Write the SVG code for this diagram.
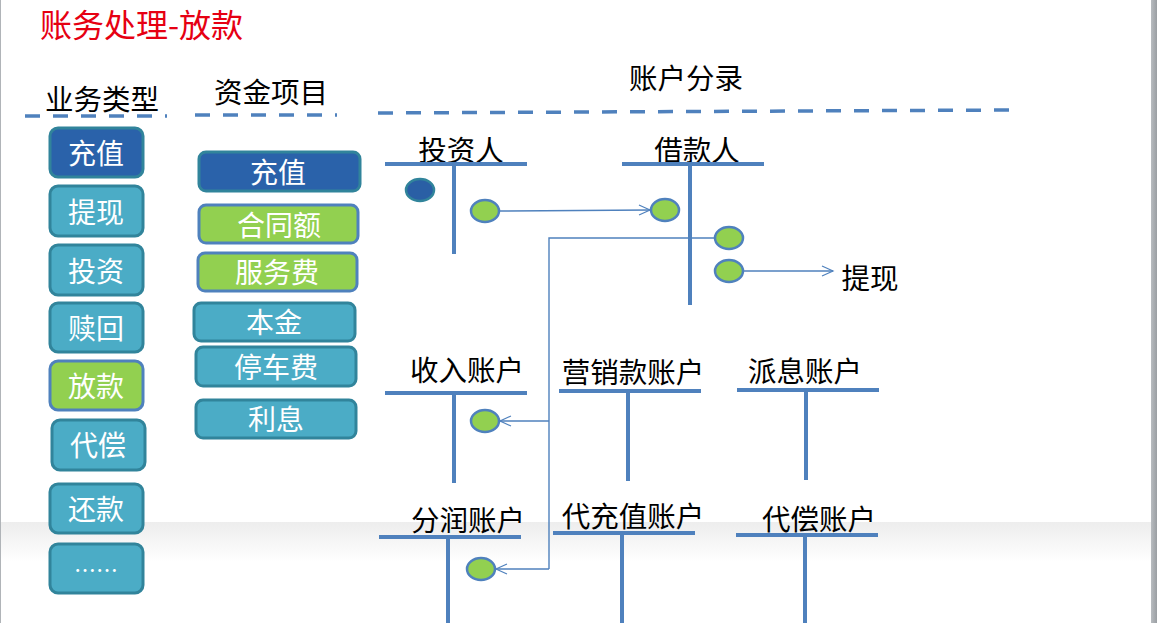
<svg xmlns="http://www.w3.org/2000/svg" width="1157" height="623" viewBox="0 0 1157 623">
<defs>
<linearGradient id="band" x1="0" y1="0" x2="0" y2="1">
<stop offset="0" stop-color="#ededed"/>
<stop offset="1" stop-color="#ffffff"/>
</linearGradient>
<linearGradient id="edge" x1="0" y1="0" x2="1" y2="0">
<stop offset="0" stop-color="#b8bcc0"/>
<stop offset="1" stop-color="#9a9ea2"/>
</linearGradient>
<marker id="arr" markerWidth="14" markerHeight="12" refX="12" refY="6" orient="auto" markerUnits="userSpaceOnUse">
<polyline points="1,1 12,6 1,11" fill="none" stroke="#4F81BD" stroke-width="1.2"/>
</marker>
<style>
text{font-family:"Noto Sans CJK SC","Liberation Sans",sans-serif;}
.hdr{font-size:28.5px;fill:#000;text-anchor:middle;dominant-baseline:central;}
.lbl{font-size:28.5px;fill:#000;text-anchor:middle;dominant-baseline:central;}
.bt{font-size:28px;fill:#fff;text-anchor:middle;dominant-baseline:central;}
.teal{fill:#4BACC6;stroke:#31849B;stroke-width:3;}
.dark{fill:#2A62AA;stroke:#31849B;stroke-width:3;}
.green{fill:#92D050;stroke:#4F81BD;stroke-width:3;}
.dash{stroke:#4F81BD;stroke-width:3.5;stroke-dasharray:15 13;fill:none;}
.t{stroke:#4F81BD;stroke-width:4;fill:none;}
.conn{stroke:#4F81BD;stroke-width:1.4;fill:none;}
.gdot{fill:#92D050;stroke:#4F81BD;stroke-width:2.5;}
.bdot{fill:#2A5FA5;stroke:#31849B;stroke-width:2.5;}
</style>
</defs>
<rect x="0" y="0" width="1157" height="623" fill="#ffffff"/>
<rect x="0" y="522" width="1151" height="40" fill="url(#band)"/>
<rect x="1151" y="0" width="6" height="623" fill="url(#edge)"/>
<rect x="0" y="0" width="1" height="623" fill="#b0b4b8"/>

<g id="title"><text x="40" y="23" style="font-size:32px;fill:#E60012;dominant-baseline:central;">账务处理-放款</text></g>

<g id="headers">
<text class="hdr" x="102" y="97">业务类型</text>
<text class="hdr" x="271" y="90">资金项目</text>
<text class="hdr" x="686" y="76">账户分录</text>
<line class="dash" x1="25" y1="116" x2="167" y2="116"/>
<line class="dash" x1="195" y1="115" x2="337" y2="115"/>
<line class="dash" x1="378" y1="113" x2="1010" y2="110"/>
</g>

<g id="biz-types">
<g id="b-chongzhi"><rect class="dark" x="50" y="128" width="93" height="49" rx="8"/><text class="bt" x="96" y="152">充值</text></g>
<g id="b-tixian"><rect class="teal" x="50" y="186" width="93" height="50" rx="8"/><text class="bt" x="96" y="211">提现</text></g>
<g id="b-touzi"><rect class="teal" x="50" y="245" width="93" height="50" rx="8"/><text class="bt" x="96" y="270">投资</text></g>
<g id="b-shuhui"><rect class="teal" x="50" y="303" width="93" height="49" rx="8"/><text class="bt" x="96" y="327">赎回</text></g>
<g id="b-fangkuan"><rect class="green" x="50" y="361" width="93" height="49" rx="8"/><text class="bt" x="96" y="385">放款</text></g>
<g id="b-daichang"><rect class="teal" x="52" y="420" width="93" height="50" rx="8"/><text class="bt" x="98" y="444">代偿</text></g>
<g id="b-huankuan"><rect class="teal" x="50" y="484" width="93" height="49" rx="8"/><text class="bt" x="96" y="508">还款</text></g>
<g id="b-more"><rect class="teal" x="50" y="544" width="93" height="49" rx="8"/><text class="bt" x="96" y="568" style="font-size:22px">……</text></g>
</g>

<g id="fund-items">
<g id="f-chongzhi"><rect class="dark" x="199" y="152" width="161" height="39" rx="7"/><text class="bt" x="278" y="171">充值</text></g>
<g id="f-hetonge"><rect class="green" x="199" y="205" width="159" height="38" rx="7"/><text class="bt" x="279" y="224">合同额</text></g>
<g id="f-fuwufei"><rect class="green" x="198" y="253" width="159" height="38" rx="7"/><text class="bt" x="277" y="271">服务费</text></g>
<g id="f-benjin"><rect class="teal" x="194" y="303" width="161" height="38" rx="7"/><text class="bt" x="274" y="321">本金</text></g>
<g id="f-tingchefei"><rect class="teal" x="196" y="347" width="160" height="39" rx="7"/><text class="bt" x="276" y="366">停车费</text></g>
<g id="f-lixi"><rect class="teal" x="196" y="400" width="160" height="38" rx="7"/><text class="bt" x="276" y="418">利息</text></g>
</g>

<g id="acct-touziren">
<text class="lbl" x="461" y="148">投资人</text>
<line class="t" x1="385" y1="164" x2="527" y2="164"/>
<line class="t" x1="454" y1="164" x2="454" y2="254"/>
<ellipse class="bdot" cx="420" cy="190" rx="14" ry="11"/>
<ellipse class="gdot" cx="485" cy="211" rx="14" ry="11"/>
</g>

<g id="acct-jiekuanren">
<text class="lbl" x="697" y="148">借款人</text>
<line class="t" x1="622" y1="164" x2="764" y2="164"/>
<line class="t" x1="690" y1="164" x2="690" y2="305"/>
<ellipse class="gdot" cx="665" cy="210" rx="14" ry="11"/>
<ellipse class="gdot" cx="729" cy="238" rx="14" ry="11"/>
<ellipse class="gdot" cx="729" cy="271" rx="14" ry="11"/>
</g>

<g id="tixian-label"><text class="lbl" x="870" y="276">提现</text></g>

<g id="acct-shouru">
<text class="lbl" x="467" y="368">收入账户</text>
<line class="t" x1="385" y1="393" x2="527" y2="393"/>
<line class="t" x1="454" y1="393" x2="454" y2="483"/>
<ellipse class="gdot" cx="485" cy="421" rx="14" ry="11"/>
</g>

<g id="acct-yingxiao">
<text class="lbl" x="633" y="370">营销款账户</text>
<line class="t" x1="559" y1="391" x2="701" y2="391"/>
<line class="t" x1="628" y1="391" x2="628" y2="481"/>
</g>

<g id="acct-paixi">
<text class="lbl" x="805" y="369">派息账户</text>
<line class="t" x1="737" y1="390" x2="879" y2="390"/>
<line class="t" x1="806" y1="390" x2="806" y2="480"/>
</g>

<g id="acct-fenrun">
<text class="lbl" x="468" y="518">分润账户</text>
<line class="t" x1="379" y1="537" x2="521" y2="537"/>
<line class="t" x1="448" y1="537" x2="448" y2="623"/>
<ellipse class="gdot" cx="481" cy="569" rx="14" ry="11"/>
</g>

<g id="acct-daichongzhi">
<text class="lbl" x="633" y="514">代充值账户</text>
<line class="t" x1="553" y1="533" x2="695" y2="533"/>
<line class="t" x1="622" y1="533" x2="622" y2="623"/>
</g>

<g id="acct-daichang">
<text class="lbl" x="819" y="517">代偿账户</text>
<line class="t" x1="736" y1="535" x2="878" y2="535"/>
<line class="t" x1="805" y1="535" x2="805" y2="623"/>
</g>

<g id="connectors">
<line class="conn" x1="500" y1="211" x2="650" y2="210" marker-end="url(#arr)"/>
<line class="conn" x1="744" y1="271" x2="833" y2="271" marker-end="url(#arr)"/>
<polyline class="conn" points="715,238 549,238 549,569"/>
<line class="conn" x1="549" y1="421" x2="500" y2="421" marker-end="url(#arr)"/>
<line class="conn" x1="549" y1="569" x2="496" y2="569" marker-end="url(#arr)"/>
</g>
</svg>
